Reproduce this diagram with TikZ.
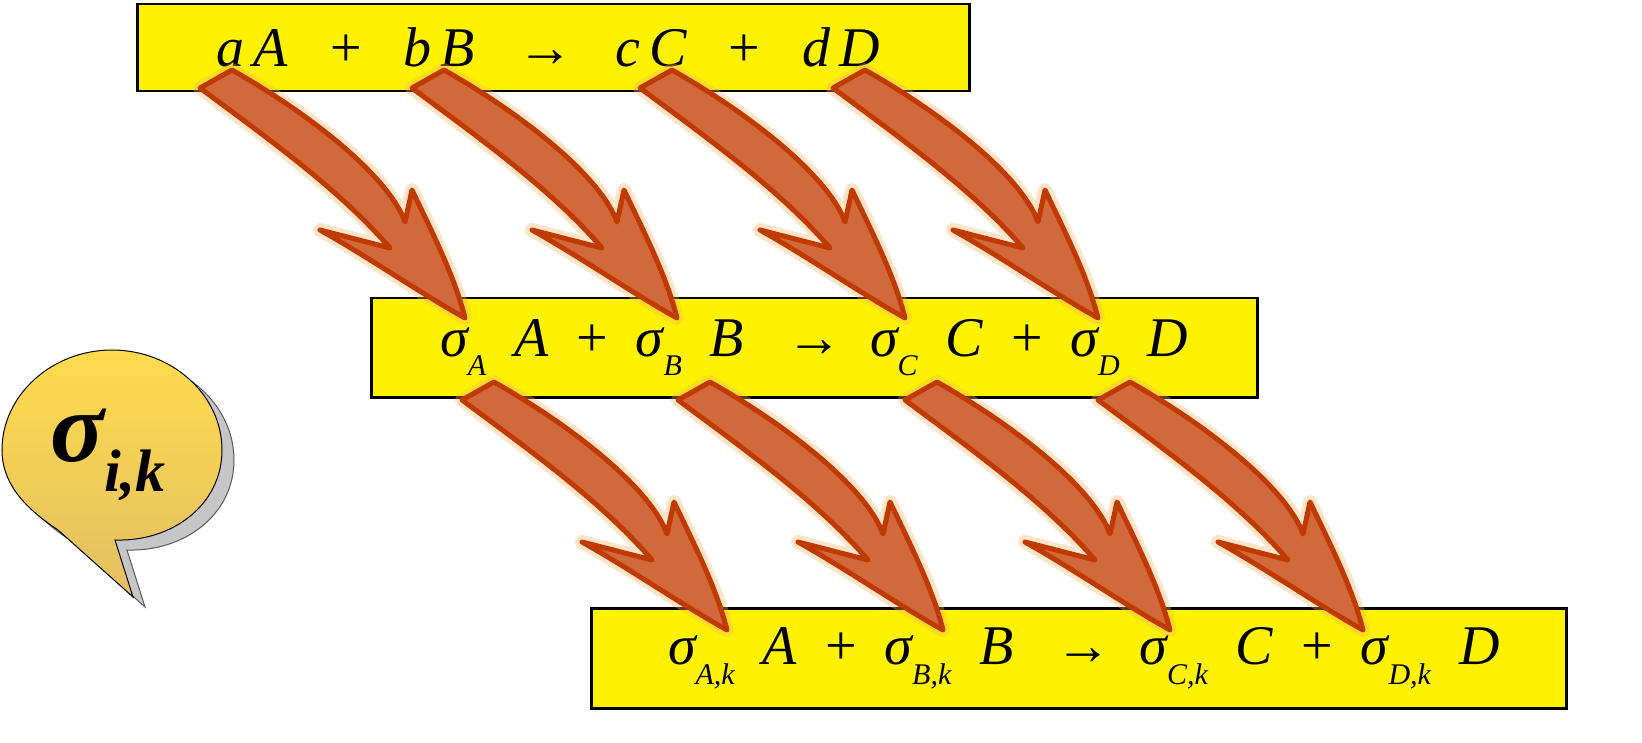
\documentclass[tikz,border=0pt]{standalone}
\usepackage{fontspec}
\setmainfont{Liberation Serif}
\newcommand{\mysb}[2]{#1\raisebox{-0.35em}{\fontsize{30}{30}\selectfont #2}}
\definecolor{arrfill}{HTML}{D2693C}
\definecolor{arrline}{HTML}{C03A00}
\definecolor{bub}{HTML}{E3BF63}
\tikzset{
 eqbox/.style={draw=black,line width=2.5pt,fill=yellow},
 eqtext/.style={font=\fontsize{56}{56}\selectfont\itshape},
 arrbody/.style={fill=arrfill,draw=arrline,line width=5pt,line join=round},
 arrglow/.style={draw=orange!60,line width=14pt,opacity=0.35,line join=round},
}
\newcommand{\myarrow}[2]{%
 \foreach \st in {arrglow,arrbody}{%
 \path[\st,shift={(#1,#2)}] (0,0) -- (32,-18) .. controls (120,32) and (190,92) .. (205,134)
   -- (212,102) .. controls (235,150) and (255,190) .. (265,230)
   .. controls (220,205) and (170,170) .. (120,142)
   -- (190,160) .. controls (140,102) and (70,52) .. (0,0) -- cycle;}}
\begin{document}
\begin{tikzpicture}[x=1pt,y=-1pt]
\node[eqbox,minimum width=832pt,minimum height=87pt,anchor=north west] (b1) at (136,3) {};
\node[eqbox,minimum width=886pt,minimum height=99pt,anchor=north west] (b2) at (370,297) {};
\node[eqbox,minimum width=975pt,minimum height=100pt,anchor=north west] (b3) at (590,607) {};
\node[eqtext] (t1) at ([xshift=-5pt]b1.center) {a\,A \ \ \upshape+\itshape\ \ \ b\,B \ \ \upshape→\itshape\ \ \ c\,C \ \ \upshape+\itshape\ \ \ d\,D};
\node[eqtext] (t2) at (b2.center) {\mysb{σ}{A}\ \ A \ \upshape+\itshape\ \ \mysb{σ}{B}\ \ B \ \ \upshape→\itshape\ \ \mysb{σ}{C}\ \ C \ \upshape+\itshape\ \ \mysb{σ}{D}\ \ D};
\node[eqtext] (t3) at ([xshift=5pt]b3.center) {\mysb{σ}{A,k} \ A \ \upshape+\itshape\ \ \mysb{σ}{B,k} \ B \ \ \upshape→\itshape\ \ \mysb{σ}{C,k} \ C \ \upshape+\itshape\ \ \mysb{σ}{D,k} \ D};
\myarrow{200}{88}\myarrow{412}{88}\myarrow{640}{88}\myarrow{833}{88}
\myarrow{462}{400}\myarrow{678}{400}\myarrow{905}{400}\myarrow{1098}{400}
% bubble
\begin{scope}[shift={(12,10)}]
\path[fill=gray!45,draw=gray!70!black,line width=1pt] (58,530) .. controls (20,505) and (2,480) .. (2,450) .. controls (2,395) and (52,350) .. (112,350) .. controls (172,350) and (222,395) .. (222,450) .. controls (222,505) and (172,542) .. (115,540) -- (133,597) -- cycle;
\end{scope}
\path[top color=yellow!60!orange!70,bottom color=bub,draw=black,line width=1pt] (58,530) .. controls (20,505) and (2,480) .. (2,450) .. controls (2,395) and (52,350) .. (112,350) .. controls (172,350) and (222,395) .. (222,450) .. controls (222,505) and (172,542) .. (115,540) -- (133,597) -- cycle;
\node[font=\fontsize{100}{100}\selectfont\bfseries\itshape] (sig) at (108,455) {σ\raisebox{-0.3em}{\fontsize{60}{60}\selectfont i,k}};
\pgfresetboundingbox
\useasboundingbox (0,0) rectangle (1642,743);
\end{tikzpicture}
\end{document}
